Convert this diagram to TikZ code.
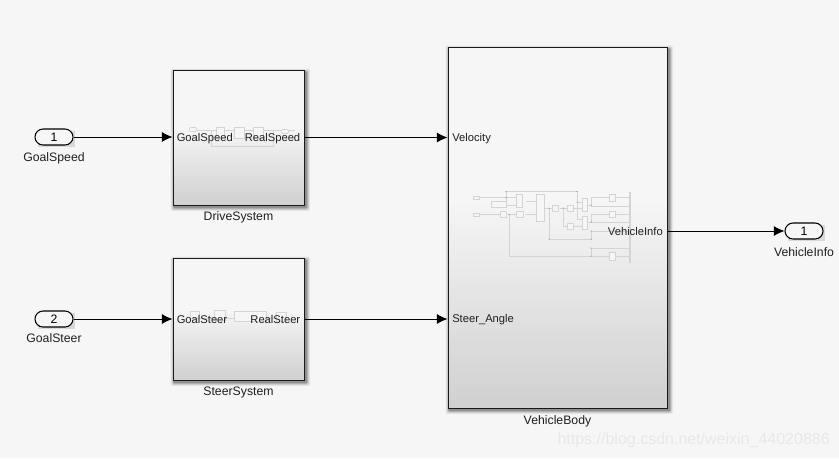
\documentclass[tikz,border=0pt]{standalone}
\usepackage{fontspec}
\setmainfont{Liberation Sans}
\usetikzlibrary{arrows.meta,shapes.misc}
\definecolor{bgc}{HTML}{F6F6F6}
\definecolor{gradTop}{HTML}{F6F6F6}
\definecolor{gradBot}{HTML}{D0D0D0}
\definecolor{mini}{HTML}{D4D4D4}
\pgfdeclareverticalshading{simgrad}{100bp}{color(0bp)=(gradBot); color(25bp)=(gradBot); color(54bp)=(gradTop); color(75bp)=(gradTop); color(100bp)=(gradTop)}
\tikzset{
  lbl/.style={font=\fontsize{9.2pt}{11pt}\selectfont, text=black!88, inner sep=0pt},
  port/.style={font=\fontsize{8.4pt}{10pt}\selectfont, text=black!88, inner sep=0pt, anchor=west},
  portr/.style={font=\fontsize{8.4pt}{10pt}\selectfont, text=black!88, inner sep=0pt, anchor=east},
  blockbox/.style={draw=black!90, line width=0.75pt, shading=simgrad, inner sep=0pt, rectangle},
  terminal/.style={rounded rectangle, draw=black, line width=0.8pt, fill=bgc, minimum width=28.5pt, minimum height=12pt, inner sep=0pt, font=\fontsize{9.2pt}{11pt}\selectfont},
  wire/.style={line width=0.6pt, black, -{Latex[length=8pt,width=7.5pt]}},
  ml/.style={draw=mini, line width=0.45pt},
  mb/.style={draw=mini, line width=0.5pt},
  mbf/.style={draw=mini, line width=0.5pt, fill=none}
}
\newcommand{\softshadow}[4]{%
  \foreach \d/\o in {3.5/0.06,2.5/0.09,1.5/0.14,0.7/0.2}{
    \fill[black,opacity=\o,rounded corners=1pt] (#1+1-\d,#2+2-\d) rectangle (#3+2.5+\d,#4+2.5+\d);
  }%
}
\begin{document}
\begin{tikzpicture}[x=0.75pt,y=-0.75pt]
\useasboundingbox (0,0) rectangle (839,458);
\fill[bgc] (0,0) rectangle (839,458);

% shadows
\softshadow{173}{70}{304}{205}
\softshadow{173}{258}{304}{380}
\softshadow{448}{47}{667}{408}
\fill[black,opacity=0.12] (38,131) rectangle (75,147);
\fill[black,opacity=0.12] (38,313) rectangle (75,329);
\fill[black,opacity=0.12] (788,225) rectangle (825,241);

% blocks
\node[blockbox, minimum width=98.25pt, minimum height=101.25pt] (drive) at (238.5,137.5) {};
\node[blockbox, minimum width=98.25pt, minimum height=91.5pt] (steer) at (238.5,319) {};
\node[blockbox, minimum width=164.25pt, minimum height=270.75pt] (body) at (557.5,227.5) {};

% mini diagram: drive
\draw[ml] (190,130) -- (295,130);
\draw[ml] (211,130) -- (211,146.5) -- (273,146.5) -- (273,130);
\node[mbf, minimum width=5.5pt, minimum height=3pt, inner sep=0pt, rounded corners=1pt, fill=gradTop] (dm1) at (193,129.5) {};
\node[mbf, minimum width=5.5pt, minimum height=3pt, inner sep=0pt, rounded corners=1pt, fill=gradTop] (dm2) at (285,131.5) {};
\draw[mb,fill=gradTop] (216,127.5) rectangle (224,138);
\draw[mb,fill=gradTop] (234,127.5) rectangle (244,138);
\draw[mb,fill=gradTop] (253,127.5) rectangle (263,138);

% mini diagram: steer
\draw[ml] (190,318) -- (283,318);
\draw[mb,fill=gradTop] (190,311) rectangle (199,318);
\draw[mb,fill=gradTop] (214,310) rectangle (225,320);
\draw[mb,fill=gradTop] (234,311) rectangle (266,321);
\draw[mb,fill=gradTop] (276,312) rectangle (286,321);

% mini diagram: body
\begin{scope}
\draw[ml] (479,197.5) -- (506,197.5) (479,214.5) -- (500,214.5);
\draw[ml] (506,191.5) -- (577,191.5) -- (577,202) -- (582,202);
\draw[ml] (506,191.5) -- (506,205) -- (517,205);
\draw[ml] (506,197.5) -- (517,197.5);
\draw[ml] (526,201) -- (536,201);
\draw[ml] (508,214.5) -- (516,214.5) (526,214.5) -- (536,214.5);
\draw[ml] (544,208) -- (553,208) (560,208) -- (567,208) (574,208) -- (582,208) (577,208) -- (577,202);
\draw[ml] (509,214.5) -- (509,256) -- (630,256);
\draw[ml] (549,208) -- (549,239) -- (591,239) -- (591,231) -- (630,231);
\draw[ml] (563,208) -- (563,226) -- (567,226) (574,226) -- (582,226);
\draw[ml] (577,208) -- (577,219) -- (582,219);
\draw[ml] (587,205) -- (591,205) -- (591,197.5) -- (630,197.5);
\draw[ml] (591,205) -- (591,206) -- (630,206);
\draw[ml] (587,222) -- (591,222) -- (591,214.5) -- (630,214.5);
\draw[ml] (591,222) -- (630,222);
\draw[ml] (591,248) -- (630,248);
\draw[ml] (591,248) -- (591,256);
\draw[mb,fill=gradTop] (473,196) rectangle (479,199);
\draw[mb,fill=gradTop] (473,213) rectangle (479,216);
\draw[mb,fill=gradTop] (491.5,201) rectangle (506,207);
\draw[mb,fill=gradTop] (500.5,211.5) rectangle (506.5,217.5);
\draw[mb,fill=gradTop] (516.5,194.5) rectangle (522.5,207.5);
\draw[mb,fill=gradTop] (516.5,211.5) rectangle (523.5,217.5);
\draw[mb,fill=gradTop] (536.5,194.5) rectangle (544,221.5);
\draw[mb,fill=gradTop] (552.5,205) rectangle (558.5,211);
\draw[mb,fill=gradTop] (567.5,205) rectangle (573.5,211);
\draw[mb,fill=gradTop] (567.5,223) rectangle (573.5,229);
\draw[mb,fill=gradTop] (582,198.5) rectangle (587.5,211.5);
\draw[mb,fill=gradTop] (582,216.5) rectangle (587.5,229.5);
\draw[mb,fill=gradTop] (609.5,194.5) rectangle (615.5,201);
\draw[mb,fill=gradTop] (609.5,211.5) rectangle (615.5,217.5);
\draw[mb,fill=gradTop] (609.5,252.5) rectangle (615.5,260.5);
\draw[draw=mini, line width=1pt] (630,191.5) -- (630,262.5);
\fill[black!60] (506,197.5) circle (0.5) (506,191.5) circle (0.5) (577,191.5) circle (0.5) (509,214.5) circle (0.5) (549,208) circle (0.5) (563,208) circle (0.5) (577,202) circle (0.5) (591,205) circle (0.5) (591,222) circle (0.5) (591,231) circle (0.5) (549,239) circle (0.5) (591,239) circle (0.5) (591,248) circle (0.5) (591,256) circle (0.5);
\end{scope}

% terminals
\node[terminal] (in1) at (54,137) {1};
\node[terminal] (in2) at (54,319) {2};
\node[terminal] (out1) at (804,231) {1};

% port labels
\node[port] (p1) at (176.5,138.8) {GoalSpeed};
\node[portr] (p2) at (300.5,138.8) {RealSpeed};
\node[port] (p3) at (176.5,319.6) {GoalSteer};
\node[portr] (p4) at (300.5,319.6) {RealSteer};
\node[port] (p5) at (452,138.8) {Velocity};
\node[port] (p6) at (452,319.6) {Steer\_Angle};
\node[portr] (p7) at (663,231.8) {VehicleInfo};

% block labels
\node[lbl] (n1) at (54,158) {GoalSpeed};
\node[lbl] (n2) at (54,338.5) {GoalSteer};
\node[lbl] (n3) at (804,252) {VehicleInfo};
\node[lbl] (n4) at (238.5,217) {DriveSystem};
\node[lbl] (n5) at (238.5,392) {SteerSystem};
\node[lbl] (n6) at (557.5,421) {VehicleBody};

% wires
\coordinate (vin) at (body.west |- drive.east);
\coordinate (sin) at (body.west |- steer.east);
\coordinate (oout) at (body.east |- out1.west);
\draw[wire] (in1.east) -- (in1.east -| drive.west);
\draw[wire] (in2.east) -- (in2.east -| steer.west);
\draw[wire] (drive.east) -- (vin);
\draw[wire] (steer.east) -- (sin);
\draw[wire] (oout) -- (out1.west);

% watermark
\node[anchor=east, inner sep=0pt, text=black!9, font=\fontsize{12pt}{14pt}\selectfont] (wm) at (830,440) {https://blog.csdn.net/weixin\_44020886};
\end{tikzpicture}
\end{document}
